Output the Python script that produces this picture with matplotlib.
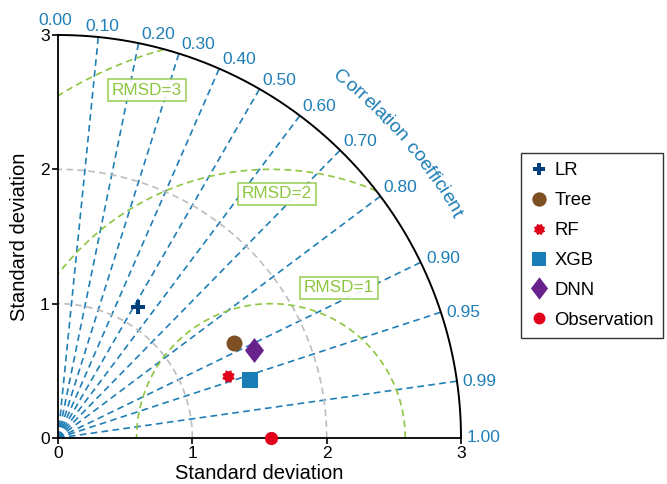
import numpy as np
import matplotlib
matplotlib.use("Agg")
import matplotlib.pyplot as plt
from matplotlib.font_manager import FontProperties
from matplotlib.textpath import TextToPath
from matplotlib.path import Path

plt.rcParams['font.family'] = ['Liberation Sans', 'DejaVu Sans']

# ---------------- data ----------------
models = ["LR", "Tree", "RF", "XGB", "DNN"]
std_devs = [1.145, 1.49, 1.35, 1.49, 1.60]
correlations = [0.521, 0.880, 0.940, 0.957, 0.912]
obs_label = "Observation"
obs_std = 1.585
corr_ticks = [0.0, 0.1, 0.2, 0.3, 0.4, 0.5, 0.6, 0.7, 0.8, 0.9, 0.95, 0.99, 1.0]
corr_lines = [0.1, 0.2, 0.3, 0.4, 0.5, 0.6, 0.7, 0.8, 0.9, 0.95, 0.99]
std_grid = [1, 2]
rmsd_levels = [1, 2, 3]
std_ticks = [0, 1, 2, 3]
std_max = 3.0

# ---------------- styles ----------------
BLUE = '#1f7fb6'
GREEN = '#8dc63f'
GRAY = '#bdbdbd'
colors = ['#003f7c', '#7d5024', '#e1001a', '#1b7db5', '#67228c']
obs_color = '#e1001a'

# custom markers
n = 8
ang = np.linspace(0, 2 * np.pi, 2 * n, endpoint=False) + np.pi / 8
rad = np.where(np.arange(2 * n) % 2 == 0, 1.0, 0.74)
gear = Path(np.column_stack([rad * np.cos(ang), rad * np.sin(ang)]))
diamond = Path([(0, 1), (0.76, 0), (0, -1), (-0.76, 0), (0, 1)],
               [Path.MOVETO, Path.LINETO, Path.LINETO, Path.LINETO, Path.CLOSEPOLY])
markers = ['P', 'o', gear, 's', diamond]
msizes = [9.5, 11.5, 9, 11.5, 18]

fig = plt.figure(figsize=(6.67, 4.84), dpi=100)
ax = fig.add_axes([58 / 667, 46 / 484, 403 / 667, 403 / 484])
ax.set_xlim(0, std_max)
ax.set_ylim(0, std_max)
ax.set_aspect('equal', adjustable='box')
for s in ['top', 'right']:
    ax.spines[s].set_visible(False)
ax.spines['left'].set_linewidth(1.3)
ax.spines['bottom'].set_linewidth(1.3)
ax.set_xticks(std_ticks)
ax.set_yticks(std_ticks)
ax.tick_params(direction='out', length=4, width=1.2, labelsize=12.5, pad=2)
ax.set_xlabel('Standard deviation', fontsize=14.5, labelpad=2)
ax.set_ylabel('Standard deviation', fontsize=14.5, labelpad=8)

dash = (4, 2.6)
# correlation lines
for c in corr_lines:
    th = np.arccos(c)
    ax.plot([0, std_max * np.cos(th)], [0, std_max * np.sin(th)], color=BLUE,
            lw=1.2, dashes=dash, zorder=2)

# std dev arcs
t = np.linspace(0, np.pi / 2, 300)
for r in std_grid:
    ax.plot(r * np.cos(t), r * np.sin(t), color=GRAY, lw=1.2, dashes=dash, zorder=2)
ax.plot(std_max * np.cos(t), std_max * np.sin(t), color='black', lw=1.4, zorder=3, clip_on=False)

# RMSD circles
tt = np.linspace(0, np.pi, 800)
for r in rmsd_levels:
    x = obs_std + r * np.cos(tt)
    y = r * np.sin(tt)
    m = (x >= 0) & (x ** 2 + y ** 2 <= std_max ** 2)
    ax.plot(x[m], y[m], color=GREEN, lw=1.2, dashes=dash, zorder=2)

# RMSD labels
rmsd_label_pos = [(2.092, 1.117), (1.63, 1.817), (0.663, 2.59)]
for r, (lx, ly) in zip(rmsd_levels, rmsd_label_pos):
    ax.text(lx, ly, f'RMSD={r}', color=GREEN, fontsize=12.3, ha='center', va='center',
            bbox=dict(boxstyle='square,pad=0.22', fc='white', ec=GREEN, lw=1.1, alpha=0.9),
            zorder=4)

# correlation tick labels
for c in corr_ticks:
    th = np.arccos(c)
    px, py = std_max * np.cos(th), std_max * np.sin(th)
    deg = np.degrees(th)
    if c == 0.0:
        off, ha, va = (-2, 5), 'center', 'bottom'
    elif c == 0.1:
        off, ha, va = (3, 2), 'center', 'bottom'
    elif deg > 32:
        off, ha, va = (2, 1), 'left', 'bottom'
    elif deg > 20:
        off, ha, va = (4, 3), 'left', 'center'
    else:
        off, ha, va = (4, 0), 'left', 'center'
    ax.annotate(f'{c:.2f}', (px, py), xytext=off, textcoords='offset points',
                ha=ha, va=va, color=BLUE, fontsize=12.5, annotation_clip=False)

# "Correlation coefficient" along arc
title = 'Correlation coefficient'
fs = 14
fp = FontProperties(family='Liberation Sans', size=fs)
ttp = TextToPath()
def wid(s):
    return ttp.get_text_width_height_descent(s, fp, ismath=False)[0]
total = wid(title)
R = 3.37
px_per_unit = 403 / 3.0
R_px = R * px_per_unit
theta_c = np.radians(40.9)
for i, ch in enumerate(title):
    mid = (wid(title[:i]) if i > 0 else 0) + wid(ch) / 2 - total / 2
    a = theta_c - (mid * 100 / 72) / R_px
    ax.text(R * np.cos(a), R * np.sin(a), ch, fontproperties=fp, color=BLUE,
            rotation=np.degrees(a) - 90, rotation_mode='anchor', ha='center',
            va='baseline', clip_on=False)

# model points
for name, s, c, col, mk, ms in zip(models, std_devs, correlations, colors, markers, msizes):
    th = np.arccos(c)
    ax.plot(s * np.cos(th), s * np.sin(th), linestyle='none', marker=mk, ms=ms,
            color=col, markeredgewidth=0, label=name, zorder=5)
ax.plot(obs_std, 0, linestyle='none', marker='o', ms=9.5, color=obs_color,
        markeredgewidth=0, label=obs_label, zorder=6, clip_on=False)

leg = fig.legend(loc='upper left', bbox_to_anchor=(521 / 667, 1 - 153 / 484),
                 bbox_transform=fig.transFigure, borderaxespad=0, fontsize=13.3,
                 frameon=True, fancybox=False, edgecolor='black', labelspacing=0.7,
                 handletextpad=0.3, handlelength=1.0, borderpad=0.5, markerscale=0.9)
leg.get_frame().set_linewidth(1.0)

fig.savefig('out.png', dpi=100)
